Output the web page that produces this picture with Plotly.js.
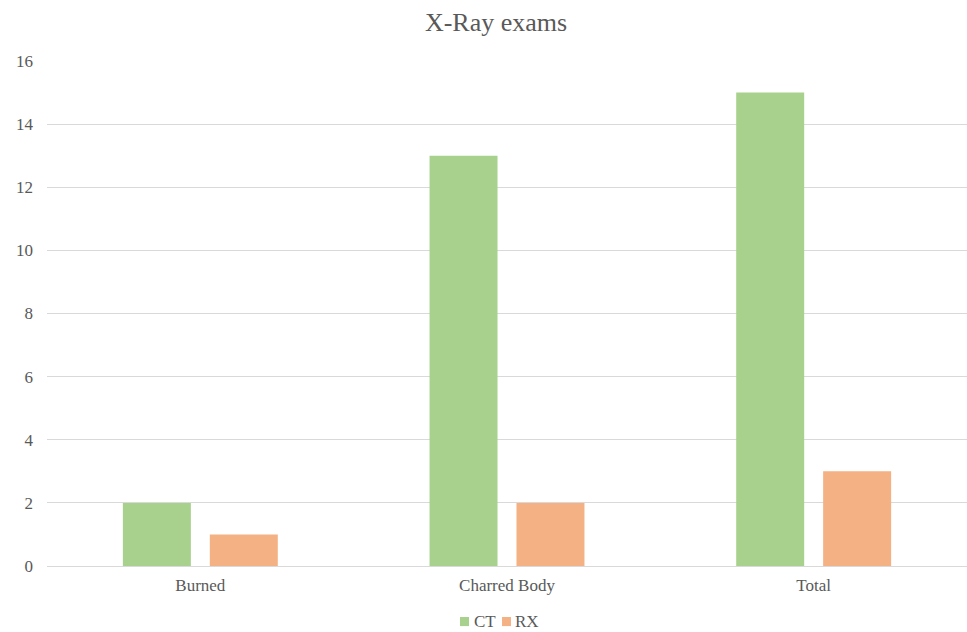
<!DOCTYPE html>
<html>
<head>
<meta charset="utf-8">
<script src="https://cdn.plot.ly/plotly-3.0.1.min.js"></script>
<style>html,body{margin:0;padding:0;background:#fff;}#chart{width:967px;height:632px;}</style>
</head>
<body>
<div id="chart"></div>
<script>
const categories = ["Burned", "Charred Body", "Total"];
const seriesNames = ["CT", "RX"];
const ctValues = [2, 13, 15];
const rxValues = [1, 2, 3];
const yTicks = [0, 2, 4, 6, 8, 10, 12, 14, 16];
const colors = ["#a9d18e", "#f4b183"];

const font = "Liberation Serif";
const traces = [
  {type: "bar", name: seriesNames[0], x: categories, y: ctValues, marker: {color: colors[0]}, hoverinfo: "y"},
  {type: "bar", name: seriesNames[1], x: categories, y: rxValues, marker: {color: colors[1]}, hoverinfo: "y"}
];

// manual legend (paper coordinates)
const legendItems = [
  {sq0: 0.4489, sq1: 0.4587, tx: 0.4615},
  {sq0: 0.4946, sq1: 0.5043, tx: 0.5065}
];
const shapes = [], annotations = [];
legendItems.forEach((it, i) => {
  shapes.push({type: "rect", xref: "paper", yref: "paper", x0: it.sq0, x1: it.sq1, y0: -0.101, y1: -0.119, fillcolor: colors[i], line: {width: 0}});
  annotations.push({xref: "paper", yref: "paper", x: it.tx, y: -0.109, xanchor: "left", yanchor: "middle", text: seriesNames[i], showarrow: false, font: {family: font, size: 17, color: "#595959"}});
});

const layout = {
  width: 967, height: 632,
  margin: {l: 47, r: 0, t: 61, b: 66, autoexpand: false},
  paper_bgcolor: "#fff", plot_bgcolor: "#fff",
  font: {family: font, color: "#595959", size: 17},
  title: {text: "X-Ray exams", font: {family: font, size: 26, color: "#595959"}, xref: "container", x: 0.513, xanchor: "center", y: 0.965, yanchor: "middle"},
  barmode: "group", bargap: 0.433, bargroupgap: 0.218,
  xaxis: {type: "category", showgrid: false, showline: true, linecolor: "#d9d9d9", linewidth: 1, ticks: "", ticklabelstandoff: 4, tickfont: {family: font, size: 17, color: "#595959"}, fixedrange: true},
  yaxis: {range: [0, 16], tickvals: yTicks, showgrid: true, gridcolor: "#d9d9d9", gridwidth: 1, zeroline: false, showline: false, ticks: "", ticklen: 0, ticklabelstandoff: 13, tickfont: {family: font, size: 17, color: "#595959"}, fixedrange: true, automargin: false},
  showlegend: false,
  shapes: shapes,
  annotations: annotations
};
Plotly.newPlot("chart", traces, layout, {displayModeBar: false, staticPlot: true});
</script>
</body>
</html>
